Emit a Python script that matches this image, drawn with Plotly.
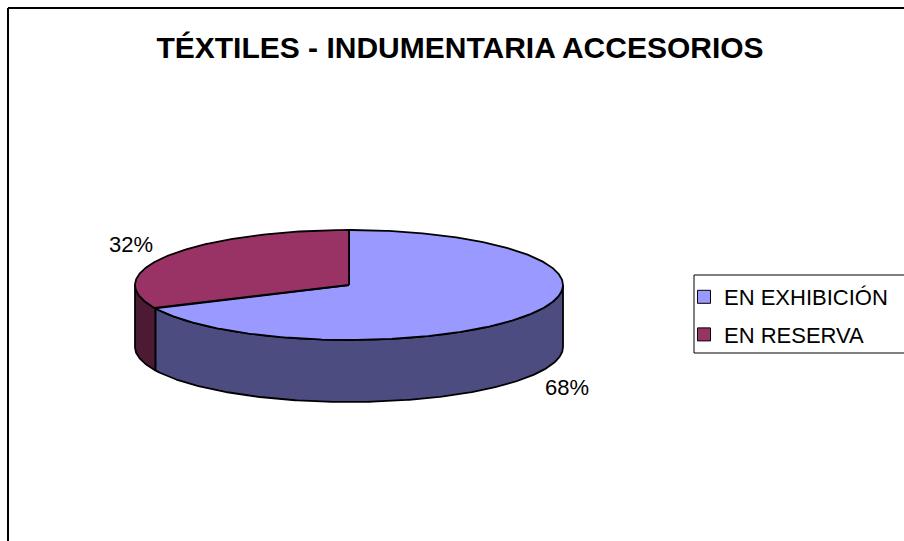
import numpy as np
import plotly.graph_objects as go

# ---- data ----
title_text = "TÉXTILES - INDUMENTARIA ACCESORIOS"
categories = ["EN EXHIBICIÓN", "EN RESERVA"]
values = [68, 32]
top_colors = ["#9999FF", "#993366"]
side_colors = ["#4C4C80", "#4C1A33"]

# ---- geometry / style (pixel space) ----
W, H = 904, 541
CX, CY, RX, RY, DEPTH = 349, 285, 214, 55, 62
LBL_RX, LBL_RY = 258, 76
FONT = "Liberation Sans, Arial, sans-serif"


def ell(a_deg, dy=0.0):
    a = np.radians(a_deg)
    return CX + RX * np.cos(a), CY - RY * np.sin(a) + dy


def arc(a0, a1, dy=0.0, n=None):
    n = n or max(4, int(abs(a1 - a0) * 1.5))
    angs = np.linspace(a0, a1, n)
    xs, ys = ell(angs, dy)
    return list(xs), list(ys)


fig = go.Figure()

total = float(sum(values))
start = 90.0
slices = []
for cat, v in zip(categories, values):
    sweep = v / total * 360.0
    end = start - sweep  # clockwise
    slices.append((cat, v, start, end))
    start = end

# side faces (front half: angles in [-180, 0] mod 360)
for i, (cat, v, a0, a1) in enumerate(slices):
    lo, hi = min(a0, a1), max(a0, a1)
    for k in range(-2, 3):
        f_lo, f_hi = -180 + 360 * k, 0 + 360 * k
        s_lo, s_hi = max(lo, f_lo), min(hi, f_hi)
        if s_hi - s_lo > 1e-6:
            tx, ty = arc(s_lo, s_hi)
            bx, by = arc(s_hi, s_lo, dy=DEPTH)
            fig.add_trace(go.Scatter(
                x=tx + bx + [tx[0]], y=ty + by + [ty[0]],
                mode="lines", fill="toself", fillcolor=side_colors[i],
                line=dict(color="black", width=1.8), showlegend=False,
                hoverinfo="skip"))

# top faces
for i, (cat, v, a0, a1) in enumerate(slices):
    ax, ay = arc(a0, a1)
    fig.add_trace(go.Scatter(
        x=[CX] + ax + [CX], y=[CY] + ay + [CY],
        mode="lines", fill="toself", fillcolor=top_colors[i],
        line=dict(color="black", width=1.8), showlegend=False,
        name=cat, hoverinfo="name"))

# percentage labels
for i, (cat, v, a0, a1) in enumerate(slices):
    mid = np.radians((a0 + a1) / 2.0)
    lx = CX + LBL_RX * np.cos(mid)
    ly = CY - LBL_RY * np.sin(mid) + (DEPTH if np.sin(mid) < 0 else 0)
    fig.add_annotation(x=lx, y=ly, text=f"{round(v / total * 100)}%",
                       showarrow=False, font=dict(size=22, color="black", family=FONT),
                       xanchor="center", yanchor="middle")

# legend entries
for i, cat in enumerate(categories):
    fig.add_trace(go.Scatter(
        x=[None], y=[None], mode="markers", name=cat, legendgroup=cat,
        marker=dict(symbol="square", size=13, color=top_colors[i],
                    line=dict(color="black", width=1))))

# frame
fig.add_shape(type="line", x0=8, y0=8, x1=W, y1=8, line=dict(color="black", width=2))
fig.add_shape(type="line", x0=8, y0=8, x1=8, y1=H, line=dict(color="black", width=2))
# legend border
fig.add_shape(type="rect", x0=694, y0=275, x1=W + 5, y1=353,
              line=dict(color="black", width=1), fillcolor="rgba(0,0,0,0)")

fig.update_layout(
    width=W, height=H,
    margin=dict(l=0, r=0, t=0, b=0),
    paper_bgcolor="white", plot_bgcolor="white",
    title=dict(text=f"<b>{title_text}</b>", x=460 / W, y=1 - 47 / H,
               xanchor="center", yanchor="middle",
               font=dict(size=30, color="black", family=FONT)),
    xaxis=dict(range=[0, W], visible=False, fixedrange=True),
    yaxis=dict(range=[H, 0], visible=False, fixedrange=True),
    legend=dict(x=684 / W, y=1 - 276 / H, xanchor="left", yanchor="top",
                borderwidth=0, bgcolor="rgba(0,0,0,0)",
                font=dict(size=22, color="black", family=FONT),
                tracegroupgap=6, itemwidth=30),
    showlegend=True,
)

fig.write_html("out.html", config={"displayModeBar": False},
               post_script="document.body.style.margin='0px';")
